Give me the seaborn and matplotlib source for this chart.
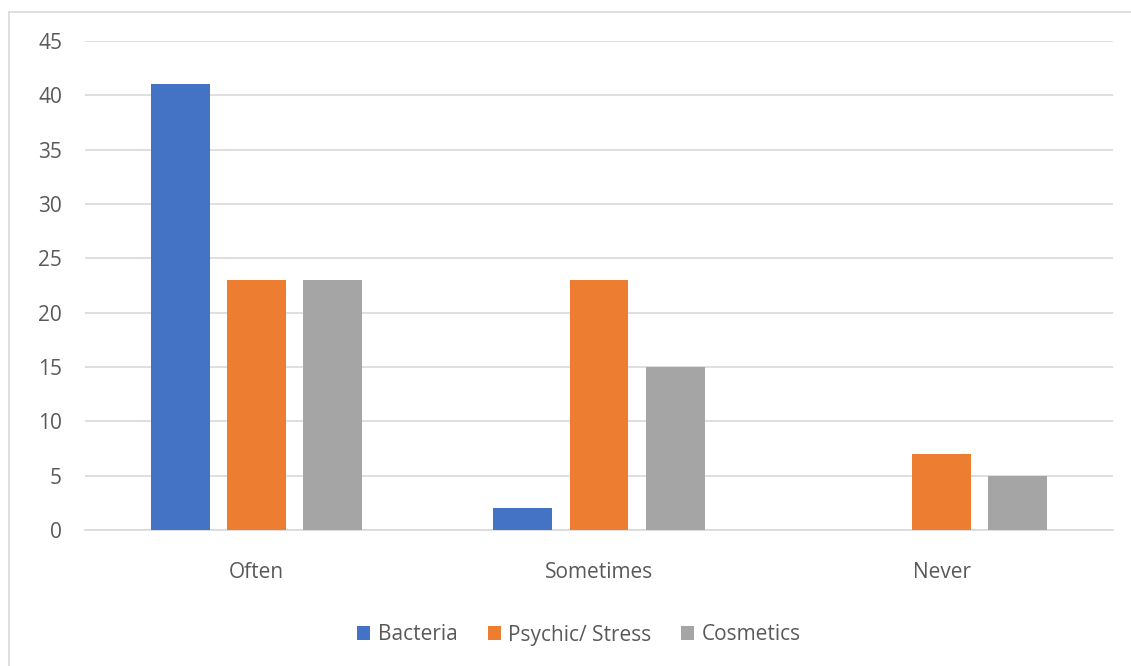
import matplotlib
matplotlib.use("Agg")
import matplotlib.pyplot as plt
import seaborn as sns
import pandas as pd
from matplotlib.lines import Line2D
from matplotlib.patches import Patch

categories = ["Often", "Sometimes", "Never"]
series = ["Bacteria", "Psychic/ Stress", "Cosmetics"]
bacteria = [41, 2, 0]
psychic = [23, 23, 7]
cosmetics = [23, 15, 5]
colors = ["#4472C4", "#ED7D31", "#A5A5A5"]
yticks = [0, 5, 10, 15, 20, 25, 30, 35, 40, 45]

rows = []
for s, vals in zip(series, [bacteria, psychic, cosmetics]):
    for c, v in zip(categories, vals):
        rows.append({"cat": c, "series": s, "value": v})
df = pd.DataFrame(rows)

sns.set_theme(style="white")
plt.rcParams["font.family"] = ["Open Sans", "DejaVu Sans"]

W, H = 1131, 666
fig = plt.figure(figsize=(W / 100, H / 100), dpi=100)
ax = fig.add_axes([85 / W, 1 - 530 / H, (1113 - 85) / W, (530 - 41) / H])

sns.barplot(data=df, x="cat", y="value", hue="series", order=categories,
            hue_order=series, palette=colors, saturation=1, width=0.666, gap=0.225,
            linewidth=0, ax=ax, legend=False, zorder=3)

ax.set_xlim(-0.5, 2.5)
ax.set_ylim(0, 45)
ax.set_yticks(yticks)
ax.yaxis.grid(True, color="#D9D9D9", linewidth=1.2, zorder=0)
ax.set_axisbelow(True)
for side in ["left", "right", "top"]:
    ax.spines[side].set_visible(False)
ax.spines["bottom"].set_color("#D9D9D9")
ax.spines["bottom"].set_linewidth(1.2)
ax.set_xlabel("")
ax.set_ylabel("")
ax.tick_params(axis="both", length=0, labelsize=15, labelcolor="#595959")
ax.tick_params(axis="y", pad=16.5)
ax.tick_params(axis="x", pad=23)

handles = [Patch(facecolor=c, edgecolor="none") for c in colors]
fig.legend(handles, series, loc="center", bbox_to_anchor=(579 / W, 1 - 635 / H),
           ncol=3, frameon=False, fontsize=15, labelcolor="#595959",
           handlelength=0.62, handleheight=0.62, handletextpad=0.35,
           columnspacing=1.45)

# outer chart border (top and left visible)
fig.add_artist(Line2D([8.5 / W, 1], [1 - 11.5 / H, 1 - 11.5 / H], color="#D9D9D9", linewidth=1.2))
fig.add_artist(Line2D([8.5 / W, 8.5 / W], [0, 1 - 11.5 / H], color="#D9D9D9", linewidth=1.2))

fig.savefig("out.png", dpi=100, facecolor="white")
